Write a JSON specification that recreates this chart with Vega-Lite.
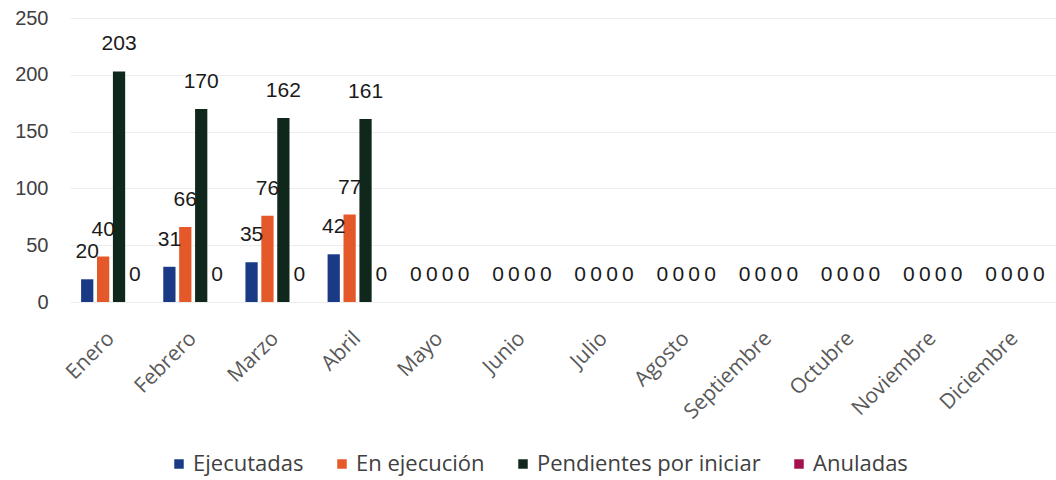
{
  "$schema": "https://vega.github.io/schema/vega-lite/v6.json",
  "width": 986,
  "height": 284,
  "autosize": "none",
  "padding": {"left": 70, "top": 18, "right": 0, "bottom": 178},
  "background": "white",
  "config": {"view": {"stroke": null}},
  "data": {
    "values": [
      {"mes": "Enero", "serie": "Ejecutadas", "valor": 20},
      {"mes": "Enero", "serie": "En ejecución", "valor": 40},
      {"mes": "Enero", "serie": "Pendientes por iniciar", "valor": 203},
      {"mes": "Enero", "serie": "Anuladas", "valor": 0},
      {"mes": "Febrero", "serie": "Ejecutadas", "valor": 31},
      {"mes": "Febrero", "serie": "En ejecución", "valor": 66},
      {"mes": "Febrero", "serie": "Pendientes por iniciar", "valor": 170},
      {"mes": "Febrero", "serie": "Anuladas", "valor": 0},
      {"mes": "Marzo", "serie": "Ejecutadas", "valor": 35},
      {"mes": "Marzo", "serie": "En ejecución", "valor": 76},
      {"mes": "Marzo", "serie": "Pendientes por iniciar", "valor": 162},
      {"mes": "Marzo", "serie": "Anuladas", "valor": 0},
      {"mes": "Abril", "serie": "Ejecutadas", "valor": 42},
      {"mes": "Abril", "serie": "En ejecución", "valor": 77},
      {"mes": "Abril", "serie": "Pendientes por iniciar", "valor": 161},
      {"mes": "Abril", "serie": "Anuladas", "valor": 0},
      {"mes": "Mayo", "serie": "Ejecutadas", "valor": 0},
      {"mes": "Mayo", "serie": "En ejecución", "valor": 0},
      {"mes": "Mayo", "serie": "Pendientes por iniciar", "valor": 0},
      {"mes": "Mayo", "serie": "Anuladas", "valor": 0},
      {"mes": "Junio", "serie": "Ejecutadas", "valor": 0},
      {"mes": "Junio", "serie": "En ejecución", "valor": 0},
      {"mes": "Junio", "serie": "Pendientes por iniciar", "valor": 0},
      {"mes": "Junio", "serie": "Anuladas", "valor": 0},
      {"mes": "Julio", "serie": "Ejecutadas", "valor": 0},
      {"mes": "Julio", "serie": "En ejecución", "valor": 0},
      {"mes": "Julio", "serie": "Pendientes por iniciar", "valor": 0},
      {"mes": "Julio", "serie": "Anuladas", "valor": 0},
      {"mes": "Agosto", "serie": "Ejecutadas", "valor": 0},
      {"mes": "Agosto", "serie": "En ejecución", "valor": 0},
      {"mes": "Agosto", "serie": "Pendientes por iniciar", "valor": 0},
      {"mes": "Agosto", "serie": "Anuladas", "valor": 0},
      {"mes": "Septiembre", "serie": "Ejecutadas", "valor": 0},
      {"mes": "Septiembre", "serie": "En ejecución", "valor": 0},
      {"mes": "Septiembre", "serie": "Pendientes por iniciar", "valor": 0},
      {"mes": "Septiembre", "serie": "Anuladas", "valor": 0},
      {"mes": "Octubre", "serie": "Ejecutadas", "valor": 0},
      {"mes": "Octubre", "serie": "En ejecución", "valor": 0},
      {"mes": "Octubre", "serie": "Pendientes por iniciar", "valor": 0},
      {"mes": "Octubre", "serie": "Anuladas", "valor": 0},
      {"mes": "Noviembre", "serie": "Ejecutadas", "valor": 0},
      {"mes": "Noviembre", "serie": "En ejecución", "valor": 0},
      {"mes": "Noviembre", "serie": "Pendientes por iniciar", "valor": 0},
      {"mes": "Noviembre", "serie": "Anuladas", "valor": 0},
      {"mes": "Diciembre", "serie": "Ejecutadas", "valor": 0},
      {"mes": "Diciembre", "serie": "En ejecución", "valor": 0},
      {"mes": "Diciembre", "serie": "Pendientes por iniciar", "valor": 0},
      {"mes": "Diciembre", "serie": "Anuladas", "valor": 0}
    ]
  },
  "encoding": {
    "x": {
      "field": "mes",
      "type": "nominal",
      "sort": ["Enero", "Febrero", "Marzo", "Abril", "Mayo", "Junio", "Julio", "Agosto", "Septiembre", "Octubre", "Noviembre", "Diciembre"],
      "scale": {"paddingInner": 0.27, "paddingOuter": 0.135},
      "axis": {
        "title": null,
        "labelAngle": -45,
        "labelAlign": "right",
        "labelBaseline": "middle",
        "domain": false,
        "ticks": false,
        "labelPadding": 33,
        "labelFontSize": 21,
        "labelFont": "Open Sans",
        "labelColor": "#595959"
      }
    },
    "xOffset": {
      "field": "serie",
      "type": "nominal",
      "sort": ["Ejecutadas", "En ejecución", "Pendientes por iniciar", "Anuladas"],
      "scale": {"paddingInner": 0.23}
    },
    "y": {
      "field": "valor",
      "type": "quantitative",
      "scale": {"domain": [0, 250], "nice": false},
      "axis": {
        "title": null,
        "values": [0, 50, 100, 150, 200, 250],
        "domain": false,
        "ticks": false,
        "grid": true,
        "gridColor": "#ededed",
        "labelFontSize": 20,
        "labelFont": "Liberation Sans",
        "labelColor": "#404040",
        "labelPadding": 22
      }
    }
  },
  "layer": [
    {
      "mark": {"type": "bar"},
      "encoding": {
        "color": {
          "field": "serie",
          "type": "nominal",
          "sort": ["Ejecutadas", "En ejecución", "Pendientes por iniciar", "Anuladas"],
          "scale": {
            "domain": ["Ejecutadas", "En ejecución", "Pendientes por iniciar", "Anuladas"],
            "range": ["#1b3a86", "#e4582a", "#10281b", "#a3124f"]
          },
          "legend": {
            "title": null,
            "orient": "none",
            "direction": "horizontal",
            "legendX": 98,
            "legendY": 435,
            "symbolType": "square",
            "symbolSize": 90,
            "symbolStrokeWidth": 0,
            "labelFont": "Open Sans",
            "labelFontSize": 22,
            "labelColor": "#404040",
            "labelOffset": 3,
            "columnPadding": 27,
            "labelLimit": 400
          }
        }
      }
    },
    {
      "mark": {"type": "text", "dy": -27, "fontSize": 21, "font": "Liberation Sans", "color": "#1a1a1a"},
      "encoding": {"text": {"field": "valor", "type": "quantitative"}}
    }
  ]
}
